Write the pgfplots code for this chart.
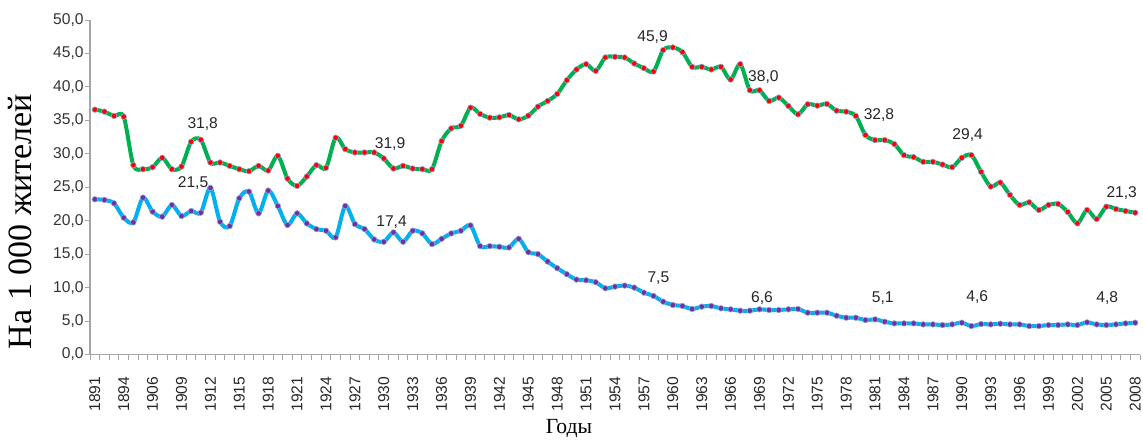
\documentclass[border=0pt]{standalone}
\usepackage{fontspec}
\setmainfont{Liberation Sans}
\newfontfamily\seriffont{Liberation Serif}
\usepackage{pgfplots}
\usepackage{pgfplotstable}
\pgfplotsset{compat=1.18}
\definecolor{lgreen}{HTML}{00B050}
\definecolor{lblue}{HTML}{00B0F0}
\definecolor{mpurple}{HTML}{7030A0}
\definecolor{axgray}{HTML}{A6A6A6}
\definecolor{mrim}{HTML}{8FA8D8}

\pgfplotstableread{
i v
0 36.6
1 36.3
2 35.65
3 35.55
4 28.3
5 27.7
6 28.0
7 29.4
8 27.7
9 28.1
10 31.8
11 32.1
12 28.7
13 28.7
14 28.2
15 27.7
16 27.4
17 28.2
18 27.5
19 29.7
20 26.3
21 25.2
22 26.6
23 28.3
24 27.9
25 32.4
26 30.7
27 30.2
28 30.2
29 30.2
30 29.3
31 27.8
32 28.2
33 27.8
34 27.7
35 27.7
36 31.9
37 33.8
38 34.2
39 36.9
40 35.95
41 35.4
42 35.45
43 35.8
44 35.15
45 35.7
46 37.05
47 37.9
48 38.95
49 41.0
50 42.6
51 43.4
52 42.4
53 44.4
54 44.5
55 44.4
56 43.5
57 42.8
58 42.3
59 45.5
60 45.9
61 45.2
62 43.0
63 43.0
64 42.6
65 43.0
66 41.1
67 43.4
68 39.5
69 39.5
70 37.9
71 38.4
72 37.15
73 35.9
74 37.4
75 37.2
76 37.45
77 36.45
78 36.3
79 35.65
80 32.8
81 32.05
82 32.05
83 31.45
84 29.8
85 29.5
86 28.8
87 28.8
88 28.4
89 28.0
90 29.4
91 29.8
92 27.3
93 25.1
94 25.7
95 23.85
96 22.35
97 22.75
98 21.6
99 22.35
100 22.5
101 21.3
102 19.6
103 21.6
104 20.25
105 22.1
106 21.75
107 21.45
108 21.2
}\births

\pgfplotstableread{
i v
0 23.2
1 23.1
2 22.6
3 20.45
4 19.75
5 23.45
6 21.35
7 20.6
8 22.35
9 20.7
10 21.45
11 21.2
12 24.9
13 19.85
14 19.2
15 23.35
16 24.35
17 21.1
18 24.5
19 22.2
20 19.35
21 21.1
22 19.6
23 18.75
24 18.5
25 17.5
26 22.2
27 19.5
28 18.75
29 17.2
30 16.85
31 18.25
32 16.85
33 18.5
34 18.1
35 16.5
36 17.3
37 18.1
38 18.5
39 19.3
40 16.2
41 16.2
42 16.1
43 16.0
44 17.3
45 15.3
46 15.0
47 13.9
48 12.9
49 12.0
50 11.2
51 11.1
52 10.8
53 9.9
54 10.15
55 10.3
56 10.0
57 9.25
58 8.75
59 7.9
60 7.4
61 7.25
62 6.8
63 7.15
64 7.25
65 6.9
66 6.75
67 6.55
68 6.55
69 6.75
70 6.65
71 6.65
72 6.75
73 6.8
74 6.25
75 6.25
76 6.25
77 5.8
78 5.5
79 5.5
80 5.15
81 5.25
82 4.9
83 4.65
84 4.65
85 4.65
86 4.5
87 4.5
88 4.4
89 4.5
90 4.75
91 4.25
92 4.55
93 4.5
94 4.6
95 4.5
96 4.5
97 4.25
98 4.25
99 4.4
100 4.4
101 4.5
102 4.4
103 4.8
104 4.5
105 4.4
106 4.5
107 4.65
108 4.75
}\deaths

\begin{document}
\begin{tikzpicture}
\begin{axis}[
  at={(0pt,0pt)}, anchor=south west,
  scale only axis, width=525pt, height=167.25pt,
  xmin=-0.5, xmax=108.5, ymin=0, ymax=50,
  clip=false,
  axis lines*=left,
  axis line style={axgray, line width=0.6pt},
  tick style={axgray, line width=0.5pt},
  tick align=outside,
  major tick length=2.5pt,
  minor tick length=2.5pt,
  xtick={0,3,...,108},
  xticklabels={1891,1894,1906,1909,1912,1915,1918,1921,1924,1927,1930,1933,1936,1939,1942,1945,1948,1951,1954,1957,1960,1963,1966,1969,1972,1975,1978,1981,1984,1987,1990,1993,1996,1999,2002,2005,2008},
  major x tick style={draw=none},
  minor xtick={-0.5,0.5,...,108.5},
  ytick={0,5,...,50},
  /pgf/number format/assume math mode=true,
  yticklabel={\pgfmathprintnumber[fixed,fixed zerofill,precision=1,use comma]{\tick}},
  xticklabel style={rotate=90, anchor=east, inner sep=0pt, xshift=-8.5pt, font=\fontsize{7.8}{9}\selectfont, text=black!85},
  yticklabel style={anchor=east, inner sep=0pt, xshift=-0.5pt, font=\fontsize{7.8}{9}\selectfont, text=black!80},
]
\addplot[lgreen, line width=2pt, smooth, tension=0.5, mark=*, mark size=1.4pt,
  mark options={fill=red, draw=mrim, line width=0.3pt}] table[x=i,y=v]{\births};
\addplot[lblue, line width=2pt, smooth, tension=0.5, mark=*, mark size=1.4pt,
  mark options={fill=mpurple, draw=mrim, line width=0.3pt}] table[x=i,y=v]{\deaths};
\begin{scope}[every node/.style={font=\fontsize{7.8}{9}\selectfont, text=black!85, inner sep=0pt}]
\node at (axis cs:11.2,34.4) {31,8};
\node at (axis cs:10.2,25.6) {21,5};
\node at (axis cs:30.65,31.5) {31,9};
\node at (axis cs:30.8,19.85) {17,4};
\node at (axis cs:57.9,47.4) {45,9};
\node at (axis cs:69.4,41.5) {38,0};
\node at (axis cs:58.5,11.4) {7,5};
\node at (axis cs:69.25,8.4) {6,6};
\node at (axis cs:81.4,35.8) {32,8};
\node at (axis cs:81.8,8.4) {5,1};
\node at (axis cs:90.6,32.8) {29,4};
\node at (axis cs:91.6,8.65) {4,6};
\node at (axis cs:106.6,24.2) {21,3};
\node at (axis cs:105.1,8.4) {4,8};
\end{scope}
\end{axis}
\node[rotate=90, anchor=base, font=\seriffont\fontsize{17}{20}\selectfont, inner sep=0pt] at (-29.15pt,66.5pt) {На 1 000 жителей};
\node[anchor=base, font=\seriffont\fontsize{10.8}{13}\selectfont, inner sep=0pt] at (239.5pt,-39.6pt) {Годы};
\pgfresetboundingbox
\useasboundingbox (-45pt,-42.25pt) rectangle (526.5pt,177.25pt);
\end{tikzpicture}
\end{document}
